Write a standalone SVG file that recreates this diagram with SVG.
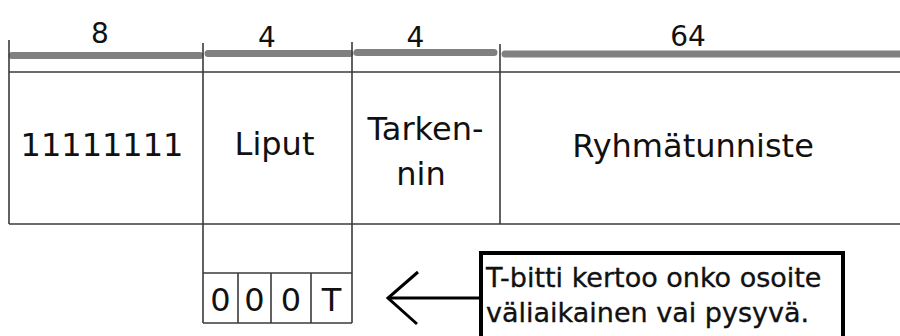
<svg xmlns="http://www.w3.org/2000/svg" width="900" height="336" viewBox="0 0 900 336">
<style>
.t{font-family:"DejaVu Sans",Verdana,sans-serif;fill:#111;text-anchor:middle}
.n{font-size:28px}
.f{font-size:32px}
.c{font-size:27px;text-anchor:start;stroke:#111;stroke-width:0.35}
.ln{stroke:#3a3a3a;stroke-width:1.6;fill:none}
.bar{stroke:#808080;stroke-width:7;stroke-linecap:round}
.blk{stroke:#000;stroke-width:3;fill:none}
</style>
<rect width="900" height="336" fill="#fff"/>
<g id="widths">
<line class="bar" x1="12" y1="55.5" x2="200" y2="55.5"/>
<line class="bar" x1="208" y1="53.5" x2="350" y2="53.5"/>
<line class="bar" x1="357" y1="52.5" x2="494" y2="52.5"/>
<line class="bar" x1="505" y1="54" x2="905" y2="54"/>
<text class="t n" x="100" y="43">8</text>
<text class="t n" x="267" y="47">4</text>
<text class="t n" x="415.5" y="47">4</text>
<text class="t n" x="688" y="46">64</text>
</g>
<g id="table">
<line class="ln" x1="9" y1="40" x2="9" y2="224"/>
<line class="ln" x1="203" y1="43" x2="203" y2="323"/>
<line class="ln" x1="352" y1="42" x2="352" y2="323"/>
<line class="ln" x1="500" y1="44" x2="500" y2="224"/>
<line class="ln" x1="9" y1="72" x2="900" y2="72"/>
<line class="ln" x1="9" y1="224" x2="900" y2="224"/>
</g>
<g id="prefix"><text class="t f" x="102" y="156">11111111</text></g>
<g id="liput"><text class="t f" x="274.5" y="155">Liput</text></g>
<g id="tarkennin"><text class="t f" x="425.5" y="140">Tarken-</text><text class="t f" x="421" y="185">nin</text></g>
<g id="ryhmatunniste"><text class="t f" x="693" y="157">Ryhmätunniste</text></g>
<g id="flags">
<line class="ln" x1="203" y1="273" x2="352" y2="273"/>
<line class="ln" x1="203" y1="323" x2="352" y2="323"/>
<line class="ln" x1="238" y1="273" x2="238" y2="323"/>
<line class="ln" x1="271" y1="273" x2="271" y2="323"/>
<line class="ln" x1="311" y1="273" x2="311" y2="323"/>
<text class="t f" x="220.5" y="311">0</text>
<text class="t f" x="254.5" y="311">0</text>
<text class="t f" x="291" y="311">0</text>
<text class="t f" x="331.5" y="311">T</text>
</g>
<g id="connectors">
<line class="blk" x1="388" y1="298" x2="481" y2="298"/>
<polyline class="blk" points="418,272 388,298 417,324"/>
</g>
<g id="note">
<rect x="481" y="253" width="362" height="90" fill="#fff" stroke="#000" stroke-width="4"/>
<text class="t c" x="486" y="287">T-bitti kertoo onko osoite</text>
<text class="t c" x="486" y="322">väliaikainen vai pysyvä.</text>
</g>
</svg>
